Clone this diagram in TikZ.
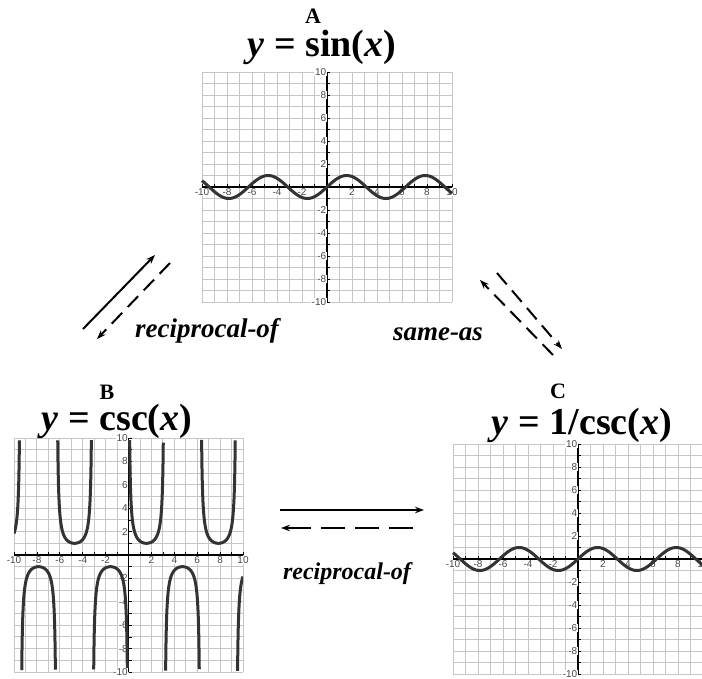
\documentclass[tikz,border=0pt]{standalone}
\usepackage{fontspec}
\setmainfont{Liberation Serif}
\newfontfamily\axisfont{Liberation Sans}
\usetikzlibrary{positioning,arrows.meta}
\definecolor{Curve}{HTML}{333333}
\definecolor{GridGray}{HTML}{C6C6C6}
\definecolor{AxisText}{HTML}{484848}
\tikzset{
  grid line/.style={draw=GridGray,line width=0.9pt},
  axis line/.style={draw=black,line width=1.5pt},
  axis tick/.style={draw=black,line width=0.7pt},
  tick label/.style={font=\axisfont\fontsize{10}{10}\selectfont,text=AxisText,
    fill=white,inner sep=0.6pt},
  graph curve/.style={draw=Curve,line width=3pt,smooth,samples=150},
  panel letter/.style={font=\bfseries\fontsize{22}{22}\selectfont},
  panel title/.style={font=\bfseries\fontsize{38}{38}\selectfont},
  relation label/.style={font=\bfseries\itshape\fontsize{27}{27}\selectfont},
  relation arrow/.style={->,>={Stealth[length=9pt,width=6.5pt]},line width=2pt},
  relation dashed/.style={relation arrow,dash pattern=on 15pt off 8pt}
}
% grid, axes and numbers of one panel, in panel units
\newcommand{\graphgrid}[1]{%
  \foreach \k in {-10,...,10} {
    \draw[grid line] (\k,-10) -- (\k,10);
    \draw[grid line] (-10,\k) -- (10,\k);
  }
  \draw[axis line] (-10,0) -- (10,0);
  \draw[axis line] (0,-10) -- (0,10);
  \foreach \k in {-10,...,10} {
    \draw[axis tick] (\k,0) -- ++(0,3pt);
    \draw[axis tick] (0,\k) -- ++(3pt,0);
  }
  \foreach \k in {-10,-8,-6,-4,-2,2,4,6,8,10} {
    \node[tick label,below=1pt] (#1x\k) at (\k,0) {\k};
    \node[tick label,left=0pt] (#1y\k) at (0,\k) {\k};
  }
}

\begin{document}
\begin{tikzpicture}[x=1pt,y=-1pt]
  \useasboundingbox (0,0) rectangle (702,679);

  % A: sine
  \begin{scope}[shift={(327,187)},x=12.5pt,y=11.5pt]
    \graphgrid{A}
    \draw[graph curve] plot[domain=-10:10] (\x,{sin(\x r)});
  \end{scope}
  \node[panel letter] (letterA) at (313,16) {A};
  \node[panel title] (titleA) at (322,47) {\textit{y} = sin(\textit{x})};

  % B: cosecant
  \begin{scope}[shift={(128.5,555)},x=11.45pt,y=11.7pt]
    \graphgrid{B}
    \clip (-10,-10) rectangle (10,10);
    \foreach \a/\b in {-10/-9.526,-9.323/-6.385,-6.181/-3.243,-3.039/-0.102,
                       0.102/3.039,3.243/6.181,6.385/9.323,9.526/10}
      \draw[graph curve] plot[domain=\a:\b] (\x,{1/sin(\x r)});
  \end{scope}
  \node[panel letter] (letterB) at (107,392) {B};
  \node[panel title] (titleB) at (117,421) {\textit{y} = csc(\textit{x})};

  % C: one over cosecant
  \begin{scope}[shift={(578,559)},x=12.5pt,y=11.5pt]
    \graphgrid{C}
    \draw[graph curve] plot[domain=-10:10] (\x,{sin(\x r)});
  \end{scope}
  \node[panel letter] (letterC) at (558,391) {C};
  \node[panel title] (titleC) at (582,425) {\textit{y} = 1/csc(\textit{x})};

  % relations
  \coordinate (ab1) at (83,329);
  \coordinate (ab2) at (155,255);
  \coordinate (ab3) at (170,263);
  \coordinate (ab4) at (97,339);
  \coordinate (ac1) at (497,273);
  \coordinate (ac2) at (562,349);
  \coordinate (ac3) at (553,355);
  \coordinate (ac4) at (480,280);
  \coordinate (bc1) at (280,510);
  \coordinate (bc2) at (424,510);
  \coordinate (bc3) at (413,528);
  \coordinate (bc4) at (281,528);
  \draw[relation arrow] (ab1) -- (ab2);
  \draw[relation dashed] (ab3) -- (ab4);
  \draw[relation dashed] (ac1) -- (ac2);
  \draw[relation dashed] (ac3) -- (ac4);
  \draw[relation arrow] (bc1) -- (bc2);
  \draw[relation dashed,dash pattern=on 24pt off 10pt] (bc3) -- (bc4);
  \node[relation label] (relAB) at (207,331) {reciprocal-of};
  \node[relation label] (relAC) at (438,334) {same-as};
  \node[relation label,font=\bfseries\itshape\fontsize{24}{24}\selectfont] (relBC) at (347,574) {reciprocal-of};
\end{tikzpicture}
\end{document}
